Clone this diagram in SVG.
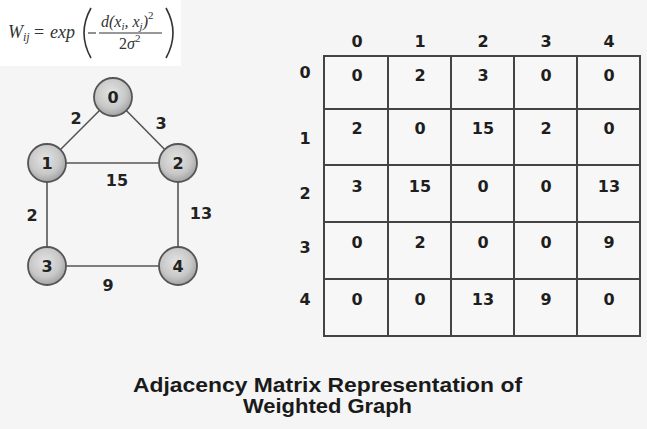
<svg xmlns="http://www.w3.org/2000/svg" width="647" height="429" viewBox="0 0 647 429">
<defs>
<radialGradient id="ng" cx="0.45" cy="0.4" r="0.65">
<stop offset="0" stop-color="#e4e4e4"/>
<stop offset="0.6" stop-color="#c8c8c8"/>
<stop offset="1" stop-color="#9a9a9a"/>
</radialGradient>
<style>
.node circle{fill:url(#ng);stroke:#555;stroke-width:1.8}
.nl{font-family:"DejaVu Sans",Verdana,sans-serif;font-weight:bold;font-size:16px;fill:#222;text-anchor:middle}
.el{font-family:"DejaVu Sans",Verdana,sans-serif;font-weight:bold;font-size:16px;fill:#222;text-anchor:middle}
.edge{stroke:#555;stroke-width:1.6;fill:none}
.grid{stroke:#444;stroke-width:2;fill:none}
.mt{font-family:"DejaVu Sans",Verdana,sans-serif;font-weight:bold;font-size:16px;fill:#1e1e1e;text-anchor:middle}
.fm{font-family:"Liberation Serif","Times New Roman",serif;fill:#333}
.title{font-family:"Liberation Sans",Arial,sans-serif;font-weight:bold;font-size:21px;fill:#1a1a1a}
</style>
</defs>
<rect width="647" height="429" fill="#f5f5f5"/>
<g id="formula">
<rect x="0" y="0" width="181" height="66" fill="#ffffff"/>
<text class="fm" x="8" y="38" font-size="18" font-style="italic">W<tspan font-size="12" dy="3">ij</tspan></text>
<text class="fm" x="34" y="38" font-size="18">=</text>
<text class="fm" x="50" y="38" font-size="18" font-style="italic">exp</text>
<path d="M91,8 Q77,33 91,58" stroke="#333" stroke-width="1.6" fill="none"/>
<line x1="88" y1="33" x2="96" y2="33" stroke="#333" stroke-width="1.1"/>
<text class="fm" x="101" y="27" font-size="16" font-style="italic">d(x<tspan font-size="11" dy="3">i</tspan><tspan dy="-3">, x</tspan><tspan font-size="11" dy="3">j</tspan><tspan dy="-3">)</tspan><tspan font-size="11" font-style="normal" dy="-8">2</tspan></text>
<line x1="99" y1="33" x2="162" y2="33" stroke="#333" stroke-width="1"/>
<text class="fm" x="119" y="49" font-size="16">2<tspan font-style="italic">σ</tspan><tspan font-size="11" dy="-7">2</tspan></text>
<path d="M166,8 Q180,33 166,58" stroke="#333" stroke-width="1.6" fill="none"/>
</g>
<g id="edges">
<line class="edge" x1="113" y1="97" x2="47" y2="163"/>
<line class="edge" x1="113" y1="97" x2="178" y2="163"/>
<line class="edge" x1="47" y1="163" x2="178" y2="163"/>
<line class="edge" x1="47" y1="163" x2="47" y2="266"/>
<line class="edge" x1="178" y1="163" x2="178" y2="266"/>
<line class="edge" x1="47" y1="266" x2="178" y2="266"/>
<text class="el" x="76" y="124">2</text>
<text class="el" x="161" y="129">3</text>
<text class="el" x="117" y="186">15</text>
<text class="el" x="32" y="221">2</text>
<text class="el" x="201" y="219">13</text>
<text class="el" x="108" y="291">9</text>
</g>
<g id="node0" class="node"><circle cx="113" cy="97" r="19"/><text class="nl" x="113" y="103">0</text></g>
<g id="node1" class="node"><circle cx="47" cy="163" r="19"/><text class="nl" x="47" y="169">1</text></g>
<g id="node2" class="node"><circle cx="178" cy="163" r="19"/><text class="nl" x="178" y="169">2</text></g>
<g id="node3" class="node"><circle cx="47" cy="266" r="19"/><text class="nl" x="47" y="272">3</text></g>
<g id="node4" class="node"><circle cx="178" cy="266" r="19"/><text class="nl" x="178" y="272">4</text></g>
<g id="matrix">
<rect x="324" y="56" width="316" height="280" fill="#f7f7f7"/>
<rect class="grid" x="324" y="56" width="316" height="280"/>
<line class="grid" x1="388" y1="56" x2="388" y2="336"/>
<line class="grid" x1="451" y1="56" x2="451" y2="336"/>
<line class="grid" x1="514" y1="56" x2="514" y2="336"/>
<line class="grid" x1="577" y1="56" x2="577" y2="336"/>
<line class="grid" x1="324" y1="109" x2="640" y2="109"/>
<line class="grid" x1="324" y1="165" x2="640" y2="165"/>
<line class="grid" x1="324" y1="222" x2="640" y2="222"/>
<line class="grid" x1="324" y1="279" x2="640" y2="279"/>
<g id="colheaders">
<text class="mt" x="357" y="47">0</text><text class="mt" x="420" y="47">1</text><text class="mt" x="483" y="47">2</text><text class="mt" x="546" y="47">3</text><text class="mt" x="609" y="47">4</text>
</g>
<g id="rowheaders">
<text class="mt" x="305" y="78">0</text><text class="mt" x="305" y="144">1</text><text class="mt" x="305" y="199">2</text><text class="mt" x="305" y="253">3</text><text class="mt" x="305" y="305">4</text>
</g>
<g id="cells">
<text class="mt" x="357" y="81">0</text><text class="mt" x="420" y="81">2</text><text class="mt" x="483" y="81">3</text><text class="mt" x="546" y="81">0</text><text class="mt" x="609" y="81">0</text>
<text class="mt" x="357" y="134">2</text><text class="mt" x="420" y="134">0</text><text class="mt" x="483" y="134">15</text><text class="mt" x="546" y="134">2</text><text class="mt" x="609" y="134">0</text>
<text class="mt" x="357" y="192">3</text><text class="mt" x="420" y="192">15</text><text class="mt" x="483" y="192">0</text><text class="mt" x="546" y="192">0</text><text class="mt" x="609" y="192">13</text>
<text class="mt" x="357" y="248">0</text><text class="mt" x="420" y="248">2</text><text class="mt" x="483" y="248">0</text><text class="mt" x="546" y="248">0</text><text class="mt" x="609" y="248">9</text>
<text class="mt" x="357" y="305">0</text><text class="mt" x="420" y="305">0</text><text class="mt" x="483" y="305">13</text><text class="mt" x="546" y="305">9</text><text class="mt" x="609" y="305">0</text>
</g>
</g>
<g id="title">
<text class="title" x="133" y="392" textLength="389" lengthAdjust="spacingAndGlyphs">Adjacency Matrix Representation of</text>
<text class="title" x="243" y="413" textLength="169" lengthAdjust="spacingAndGlyphs">Weighted Graph</text>
</g>
</svg>
